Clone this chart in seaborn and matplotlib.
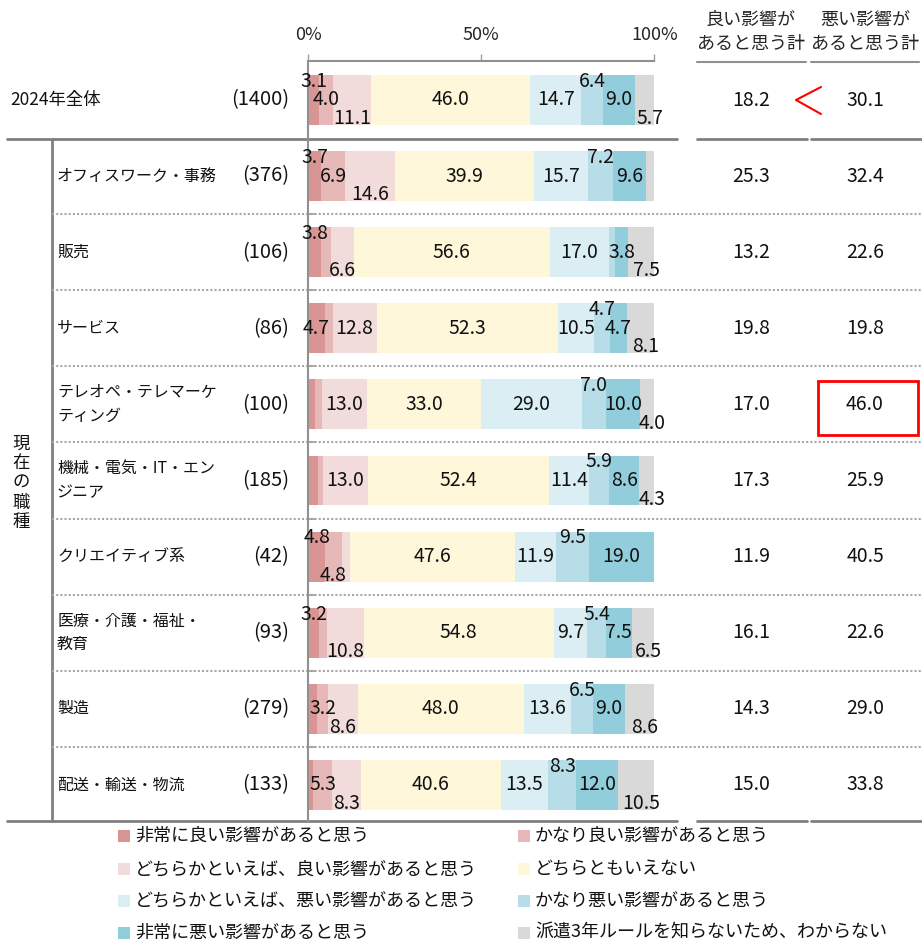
import numpy as np
import pandas as pd
import matplotlib
matplotlib.use("Agg")
import matplotlib.pyplot as plt
import seaborn as sns
from matplotlib.patches import Rectangle

# ---- data ----
groups = ["2024年全体", "オフィスワーク・事務", "販売", "サービス",
          "テレオペ・テレマーケ\nティング", "機械・電気・IT・エン\nジニア",
          "クリエイティブ系", "医療・介護・福祉・\n教育", "製造", "配送・輸送・物流"]
sizes = ["(1400)", "(376)", "(106)", "(86)", "(100)", "(185)", "(42)", "(93)", "(279)", "(133)"]

answers = ["非常に良い影響があると思う", "かなり良い影響があると思う",
           "どちらかといえば、良い影響があると思う", "どちらともいえない",
           "どちらかといえば、悪い影響があると思う", "かなり悪い影響があると思う",
           "非常に悪い影響があると思う", "派遣3年ルールを知らないため、わからない"]

very_good     = [3.1, 3.7, 3.8, 4.7, 2.0, 2.7, 4.8, 3.2, 2.5, 1.5]
fairly_good   = [4.0, 6.9, 2.8, 2.3, 2.0, 1.6, 4.8, 2.1, 3.2, 5.3]
somewhat_good = [11.1, 14.6, 6.6, 12.8, 13.0, 13.0, 2.4, 10.8, 8.6, 8.3]
neither       = [46.0, 39.9, 56.6, 52.3, 33.0, 52.4, 47.6, 54.8, 48.0, 40.6]
somewhat_bad  = [14.7, 15.7, 17.0, 10.5, 29.0, 11.4, 11.9, 9.7, 13.6, 13.5]
fairly_bad    = [6.4, 7.2, 1.8, 4.7, 7.0, 5.9, 9.5, 5.4, 6.5, 8.3]
very_bad      = [9.0, 9.6, 3.8, 4.7, 10.0, 8.6, 19.0, 7.5, 9.0, 12.0]
unknown       = [5.7, 2.4, 7.5, 8.1, 4.0, 4.3, 0.0, 6.5, 8.6, 10.5]

good_total = [18.2, 25.3, 13.2, 19.8, 17.0, 17.3, 11.9, 16.1, 14.3, 15.0]
bad_total  = [30.1, 32.4, 22.6, 19.8, 46.0, 25.9, 40.5, 22.6, 29.0, 33.8]

colors = ["#D99594", "#E6B8B7", "#F2DCDB", "#FFF7D9",
          "#DAEEF3", "#B7DEE8", "#92CDDC", "#D9D9D9"]

# label placement: u = above, m = middle, d = below, "" = no label
label_pos = [
    ["u", "m", "d", "m", "m", "u", "m", "d"],
    ["u", "m", "d", "m", "m", "u", "m", ""],
    ["u", "", "d", "m", "m", "", "m", "d"],
    ["m", "", "m", "m", "m", "u", "m", "d"],
    ["", "", "m", "m", "m", "u", "m", "d"],
    ["", "", "m", "m", "m", "u", "m", "d"],
    ["u", "d", "", "m", "m", "u", "m", ""],
    ["u", "", "d", "m", "m", "u", "m", "d"],
    ["", "m", "d", "m", "m", "u", "m", "d"],
    ["", "m", "d", "m", "m", "u", "m", "d"],
]

series = [very_good, fairly_good, somewhat_good, neither,
          somewhat_bad, fairly_bad, very_bad, unknown]
vals = np.array(series).T          # rows x answers
cum = np.cumsum(vals, axis=1)

sns.set_theme(style="white")
plt.rcParams["font.family"] = ["Noto Sans CJK JP", "DejaVu Sans"]

W, H = 922, 941
fig = plt.figure(figsize=(W / 100, H / 100), dpi=100)

# background axes in pixel coordinates
bg = fig.add_axes([0, 0, 1, 1])
bg.set_xlim(0, W)
bg.set_ylim(H, 0)
bg.axis("off")

x0, x1 = 308.3, 654.3
y_top, y_bot = 61, 822
row0, step = 100, 76.1
ax = fig.add_axes([x0 / W, 1 - y_bot / H, (x1 - x0) / W, (y_bot - y_top) / H], zorder=2)
ax.patch.set_alpha(0)

rows = [f"r{i}" for i in range(len(groups))]
for k in range(len(answers) - 1, -1, -1):
    df = pd.DataFrame({"row": rows, "cum": cum[:, k]})
    sns.barplot(data=df, x="cum", y="row", order=rows, orient="h", color=colors[k],
                saturation=1, width=0.657, linewidth=0, errorbar=None, ax=ax)

ax.set_xlim(0, 100)
ax.set_ylim(9 + (y_bot - (row0 + 9 * step)) / step, -(row0 - y_top) / step)
ax.set_xlabel("")
ax.set_ylabel("")
ax.xaxis.tick_top()
ax.set_xticks([0, 50, 100])
ax.set_xticklabels(["0%", "50%", "100%"], fontsize=13)
ax.tick_params(axis="x", direction="out", length=5, width=1, color="#A0A0A0", pad=7, top=True, bottom=False)
ax.set_yticks([i + 0.5 for i in range(1, 9)])
ax.set_yticklabels([])
ax.tick_params(axis="y", direction="in", length=6, width=1.2, color="#A0A0A0", left=True)
for s in ["right", "bottom"]:
    ax.spines[s].set_visible(False)
for s in ["top", "left"]:
    ax.spines[s].set_color("#909090")
    ax.spines[s].set_linewidth(1.5)

# segment labels
off = {"u": -0.245, "m": 0.0, "d": 0.245}
for i in range(len(groups)):
    for k in range(len(answers)):
        p = label_pos[i][k]
        if not p:
            continue
        xc = cum[i, k] - vals[i, k] / 2
        if k == len(answers) - 1:
            xc += 1.5
        ax.text(xc, i + off[p], f"{vals[i, k]:.1f}", ha="center", va="center",
                fontsize=14, color="#111111", clip_on=False)

# left labels, sizes, right totals
for i in range(len(groups)):
    y = row0 + i * step
    bg.text(10 if i == 0 else 57, y, groups[i], ha="left", va="center",
            fontsize=11.5 if i else 12.5, linespacing=1.5, color="#111111")
    bg.text(289, y, sizes[i], ha="right", va="center", fontsize=14.5, color="#111111")
    bg.text(751, y, f"{good_total[i]:.1f}", ha="center", va="center", fontsize=14, color="#111111")
    bg.text(865, y, f"{bad_total[i]:.1f}", ha="center", va="center", fontsize=14, color="#111111")

bg.text(21, 483, "\n".join("現在の職種"), ha="center", va="center",
        fontsize=12.5, linespacing=1.12, color="#111111")

# headers
bg.text(751, 32, "良い影響が\nあると思う計", ha="center", va="center", fontsize=13, linespacing=1.4)
bg.text(865, 32, "悪い影響が\nあると思う計", ha="center", va="center", fontsize=13, linespacing=1.4)
bg.plot([697, 806], [62, 62], color="#909090", lw=1.5)
bg.plot([811, 919], [62, 62], color="#909090", lw=1.5)

# frame lines
for yy in [139, 821]:
    for a, b in [(7, 677), (697, 807), (811, 922)]:
        bg.plot([a, b], [yy, yy], color="#808080", lw=2)
bg.plot([52, 52], [139, 821], color="#808080", lw=2)
for i in range(1, 9):
    yy = row0 + (i + 0.5) * step
    bg.plot([52, 922], [yy, yy], color="#A8A8A8", lw=1.5, ls=(0, (1, 1)))

# red annotations
bg.plot([821, 796, 821], [87, 100, 114], color="#FF0000", lw=1.5)
bg.add_patch(Rectangle((818, 381), 100, 54, fill=False, edgecolor="#FF0000", lw=2))

# legend
leg_x = [118, 518]
leg_y = [836, 869, 901, 933]
for k, name in enumerate(answers):
    lx = leg_x[k % 2]
    ly = leg_y[k // 2]
    bg.add_patch(Rectangle((lx, ly - 6), 12, 12, facecolor=colors[k], edgecolor="none"))
    bg.text(lx + 17, ly, name, ha="left", va="center", fontsize=13, color="#111111")

fig.savefig("out.png", dpi=100)
